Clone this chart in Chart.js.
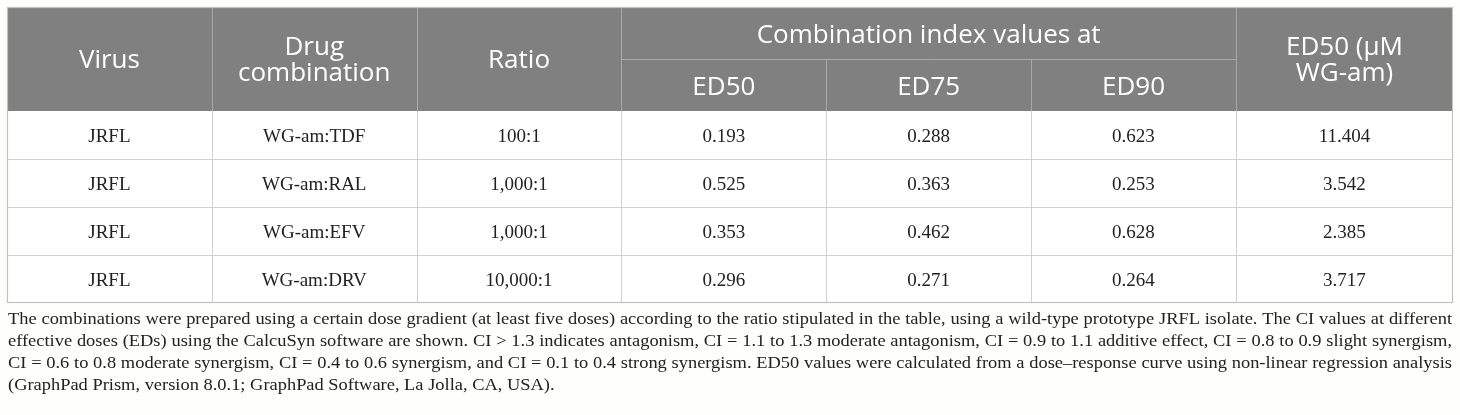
<!DOCTYPE html>
<html>
<head>
<meta charset="utf-8">
<script src="https://cdn.jsdelivr.net/npm/chart.js@4.4.0/dist/chart.umd.min.js"></script>
<style>
    body { margin: 0; background: #fefefb; }
    canvas { display: block; }
</style>
</head>
<body>
<canvas id="tableChart" width="1460" height="415"></canvas>
<script>
// table content
const viruses = ['JRFL', 'JRFL', 'JRFL', 'JRFL']
const combinations = ['WG-am:TDF', 'WG-am:RAL', 'WG-am:EFV', 'WG-am:DRV']
const ratios = ['100:1', '1,000:1', '1,000:1', '10,000:1']
const ciED50 = [0.193, 0.525, 0.353, 0.296]
const ciED75 = [0.288, 0.363, 0.462, 0.271]
const ciED90 = [0.623, 0.253, 0.628, 0.264]
const ed50WGam = [11.404, 3.542, 2.385, 3.717]

const headerTop = ['Virus', 'Drug\ncombination', 'Ratio', 'Combination index values at', 'ED50 (µM\nWG-am)']
const headerSub = ['ED50', 'ED75', 'ED90']

const footnoteLines = [
    'The combinations were prepared using a certain dose gradient (at least five doses) according to the ratio stipulated in the table, using a wild-type prototype JRFL isolate. The CI values at different',
    'effective doses (EDs) using the CalcuSyn software are shown. CI > 1.3 indicates antagonism, CI = 1.1 to 1.3 moderate antagonism, CI = 0.9 to 1.1 additive effect, CI = 0.8 to 0.9 slight synergism,',
    'CI = 0.6 to 0.8 moderate synergism, CI = 0.4 to 0.6 synergism, and CI = 0.1 to 0.4 strong synergism. ED50 values were calculated from a dose\u2013response curve using non-linear regression analysis',
    '(GraphPad Prism, version 8.0.1; GraphPad Software, La Jolla, CA, USA).'
]

// layout in scale units: one body row = 1 unit on y
const colEdges = [0, 1, 2, 3, 4, 5, 6, 7.06]
const headerTopY = -2.17
const subHeaderY = -1.08
const headerFont = '26px "Open Sans"'
const bodyFont = '19px "Liberation Serif"'

const bodyColumns = [
    viruses,
    combinations,
    ratios,
    ciED50.map(v => v.toFixed(3)),
    ciED75.map(v => v.toFixed(3)),
    ciED90.map(v => v.toFixed(3)),
    ed50WGam.map(v => v.toFixed(3))
]

// header cells: column span and row span in scale units
const headerCells = [
    {c0: 0, c1: 1, y0: headerTopY, y1: 0, text: headerTop[0]},
    {c0: 1, c1: 2, y0: headerTopY, y1: 0, text: headerTop[1]},
    {c0: 2, c1: 3, y0: headerTopY, y1: 0, text: headerTop[2]},
    {c0: 3, c1: 6, y0: headerTopY, y1: subHeaderY, text: headerTop[3]},
    {c0: 3, c1: 4, y0: subHeaderY, y1: 0, text: headerSub[0]},
    {c0: 4, c1: 5, y0: subHeaderY, y1: 0, text: headerSub[1]},
    {c0: 5, c1: 6, y0: subHeaderY, y1: 0, text: headerSub[2]},
    {c0: 6, c1: 7, y0: headerTopY, y1: 0, text: headerTop[4]}
]

function line(ctx, x0, y0, x1, y1) {
    ctx.beginPath()
    ctx.moveTo(x0, y0)
    ctx.lineTo(x1, y1)
    ctx.stroke()
}

const gridPlugin = {
    id: 'tableGrid',
    beforeDatasetsDraw(chart) {
        const ctx = chart.ctx
        const x = chart.scales.x
        const y = chart.scales.y
        const left = x.getPixelForValue(colEdges[0])
        const right = x.getPixelForValue(colEdges[colEdges.length - 1])
        const top = y.getPixelForValue(headerTopY)
        const mid = y.getPixelForValue(0)
        const bottom = y.getPixelForValue(viruses.length)
        ctx.save()
        ctx.fillStyle = '#808080'
        ctx.fillRect(left, top, right - left, mid - top)
        ctx.fillStyle = '#ffffff'
        ctx.fillRect(left, mid, right - left, bottom - mid)
        ctx.lineWidth = 1

        // header lines
        ctx.strokeStyle = '#a9a9a9'
        for (let c = 1; c < colEdges.length - 1; c++) {
            const px = Math.round(x.getPixelForValue(colEdges[c])) + 0.5
            const from = (c === 4 || c === 5) ? y.getPixelForValue(subHeaderY) : top
            line(ctx, px, from, px, mid)
        }
        const sy = Math.round(y.getPixelForValue(subHeaderY)) + 0.5
        line(ctx, x.getPixelForValue(colEdges[3]), sy, x.getPixelForValue(colEdges[6]), sy)

        // body lines
        ctx.strokeStyle = '#d0d0d0'
        for (let r = 1; r < viruses.length; r++) {
            const py = Math.round(y.getPixelForValue(r)) + 0.5
            line(ctx, left, py, right, py)
        }
        for (let c = 1; c < colEdges.length - 1; c++) {
            const px = Math.round(x.getPixelForValue(colEdges[c])) + 0.5
            line(ctx, px, mid, px, bottom)
        }

        // outer border
        ctx.strokeStyle = '#c2c2c2'
        ctx.lineWidth = 1.2
        ctx.strokeRect(Math.round(left) + 0.5, Math.round(top) + 0.5, Math.round(right - left) - 1, Math.round(bottom - top) - 1)
        ctx.restore()
    }
}

function drawJustified(ctx, text, x, y, width, justify) {
    if (!justify) {
        ctx.fillText(text, x, y)
        return
    }
    const words = text.split(' ')
    const widths = words.map(w => ctx.measureText(w).width)
    const total = widths.reduce((a, b) => a + b, 0)
    const gap = (width - total) / (words.length - 1)
    let cx = x
    words.forEach((w, i) => {
        ctx.fillText(w, cx, y)
        cx += widths[i] + gap
    })
}

const textPlugin = {
    id: 'tableText',
    afterDatasetsDraw(chart) {
        const ctx = chart.ctx
        const x = chart.scales.x
        const y = chart.scales.y
        ctx.save()
        ctx.textAlign = 'center'
        ctx.textBaseline = 'middle'

        // header labels
        ctx.fillStyle = '#ffffff'
        ctx.font = headerFont
        headerCells.forEach(cell => {
            const cx = (x.getPixelForValue(colEdges[cell.c0]) + x.getPixelForValue(colEdges[cell.c1])) / 2
            const cy = (y.getPixelForValue(cell.y0) + y.getPixelForValue(cell.y1)) / 2 + 2
            const parts = cell.text.split('\n')
            parts.forEach((p, i) => {
                ctx.fillText(p, cx, cy + (i - (parts.length - 1) / 2) * 26)
            })
        })

        // body values, placed at the dataset points
        ctx.fillStyle = '#222222'
        ctx.font = bodyFont
        chart.data.datasets.forEach((ds, d) => {
            const meta = chart.getDatasetMeta(d)
            meta.data.forEach((pt, i) => {
                ctx.fillText(ds.texts[i], pt.x, pt.y + 2)
            })
        })
        ctx.restore()
    },
    afterDraw(chart) {
        // footnote under the table, justified like the source
        const ctx = chart.ctx
        const area = chart.chartArea
        const left = area.left + 1
        const width = area.right - area.left - 2
        ctx.save()
        ctx.fillStyle = '#222222'
        ctx.textAlign = 'left'
        ctx.textBaseline = 'middle'
        ctx.font = '17.5px "Liberation Serif"'
        const widest = Math.max(...footnoteLines.slice(0, 3).map(l => ctx.measureText(l).width))
        const sx = (width - 4) / widest
        ctx.translate(left, 0)
        ctx.scale(sx, 1)
        footnoteLines.forEach((l, i) => {
            drawJustified(ctx, l, 0, area.bottom + 16 + i * 22, width / sx, i < footnoteLines.length - 1)
        })
        ctx.restore()
    }
}

const ctx = document.getElementById('tableChart').getContext('2d')
const tableChart = new Chart(ctx, {
    type: 'scatter',
    data: {
        datasets: bodyColumns.map((col, c) => ({
            label: 'col' + c,
            texts: col,
            data: col.map((v, r) => ({x: (colEdges[c] + colEdges[c + 1]) / 2, y: r + 0.5})),
            pointRadius: 0,
            pointHoverRadius: 0
        }))
    },
    options: {
        responsive: false,
        animation: false,
        layout: {
            padding: {left: 7, right: 7, top: 7, bottom: 112}
        },
        scales: {
            x: {type: 'linear', min: colEdges[0], max: colEdges[colEdges.length - 1], display: false},
            y: {type: 'linear', min: headerTopY, max: viruses.length, reverse: true, display: false}
        },
        plugins: {
            legend: {display: false},
            tooltip: {enabled: false}
        }
    },
    plugins: [gridPlugin, textPlugin]
})
</script>
</body>
</html>
